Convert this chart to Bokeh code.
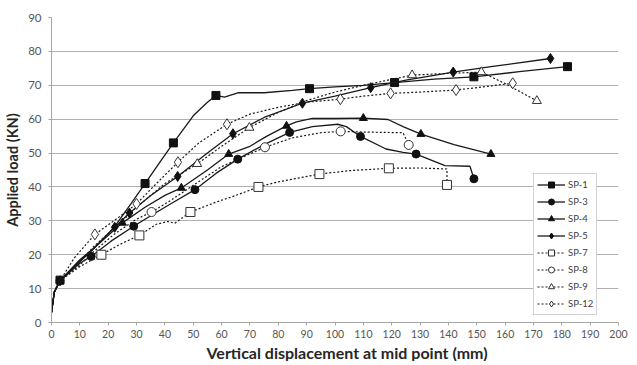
from bokeh.plotting import figure
from bokeh.models import Legend, LegendItem, Range1d, FixedTicker, Title
from bokeh.embed import file_html
from bokeh.resources import INLINE

# ---- data ----
sp1_x = [0, 1, 3, 8, 14, 22, 28, 33, 38, 43, 50, 55, 58, 61, 66, 75, 85, 91, 100, 110, 121, 135, 149, 165, 182]
sp1_y = [3, 9, 12.5, 16.5, 21, 28, 35, 41, 47, 53, 61, 65, 67, 66.5, 67.8, 67.8, 68.5, 69, 69.5, 70, 70.8, 71.8, 72.5, 74, 75.5]
sp1_mx = [3, 33, 43, 58, 91, 121, 149, 182]
sp1_my = [12.5, 41, 53, 67, 69, 70.8, 72.5, 75.5]

sp3_x = [0, 1, 3, 10, 14, 21, 29, 36, 43, 50.6, 58, 65.7, 75, 84, 92, 101, 104, 109, 118, 124, 128.6, 138.8, 147.6, 149]
sp3_y = [3, 9, 12.3, 17.5, 19.5, 24, 28.4, 32, 35.5, 39.2, 44, 48.2, 52.5, 56.1, 57.8, 58.5, 57.8, 54.9, 51.2, 50.2, 49.7, 46.3, 46.1, 42.4]
sp3_mx = [3, 14, 29, 50.6, 65.7, 84, 109, 128.6, 149]
sp3_my = [12.3, 19.5, 28.4, 39.2, 48.2, 56.1, 54.9, 49.7, 42.4]

sp4_x = [0, 1, 3, 10, 15, 25, 33, 40, 45.8, 55, 62.5, 70, 76, 82.9, 86.4, 92, 100, 110, 118.7, 124, 130.3, 142, 155]
sp4_y = [3, 9, 12.3, 18, 22, 29.4, 34, 37.5, 39.7, 45, 49.7, 52, 55, 58, 59.2, 60.2, 60.2, 60.3, 59.9, 57.8, 55.6, 52.5, 49.7]
sp4_mx = [3, 25, 45.8, 62.5, 82.9, 110, 130.3, 155]
sp4_my = [12.3, 29.4, 39.7, 49.7, 58, 60.3, 55.6, 49.7]

sp5_x = [0, 1, 3, 10, 15, 22.3, 27.5, 35, 44.5, 55, 64, 75, 88.5, 100, 112.6, 125, 141.7, 155, 176]
sp5_y = [3, 9, 12.3, 18.5, 22, 28.1, 32.3, 37.5, 43.1, 50, 55.7, 60.5, 64.7, 66.8, 69.3, 71.5, 73.9, 75.5, 77.9]
sp5_mx = [3, 22.3, 27.5, 44.5, 64, 88.5, 112.6, 141.7, 176]
sp5_my = [12.3, 28.1, 32.3, 43.1, 55.7, 64.7, 69.3, 73.9, 77.9]

sp7_x = [0, 1, 3, 10, 17.6, 24, 31, 37, 41, 43.5, 49, 58, 65, 73, 80, 94.5, 105, 119, 130, 139.5, 139.5]
sp7_y = [3, 9, 12.3, 16.5, 20, 23, 25.7, 29, 29.8, 29.3, 32.6, 35.5, 37.5, 40, 41.5, 43.8, 44.8, 45.5, 45.6, 45.3, 40.6]
sp7_mx = [17.6, 31, 49, 73, 94.5, 119, 139.5]
sp7_my = [20, 25.7, 32.6, 40, 43.8, 45.5, 40.6]

sp8_x = [0, 1, 3, 10, 15, 22, 30, 35.3, 42, 50, 60, 68, 75.3, 85, 95, 102, 110, 124, 126]
sp8_y = [3, 9, 12.3, 17, 21, 26, 30.5, 32.6, 36, 40.5, 46, 49, 51.7, 54.5, 56, 56.4, 56.2, 56, 52.4]
sp8_mx = [35.3, 75.3, 102, 126]
sp8_my = [32.6, 51.7, 56.4, 52.4]

sp9_x = [0, 1, 3, 10, 15, 25, 30, 40, 51.4, 60, 69.8, 80, 90, 100, 110, 127.2, 140, 151.6, 160, 171.2]
sp9_y = [3, 9, 12.3, 18, 22.5, 30, 34, 41, 46.8, 52, 57.5, 62, 65.5, 68, 70, 73, 73.5, 73.9, 70.5, 65.4]
sp9_mx = [51.4, 69.8, 127.2, 151.6, 171.2]
sp9_my = [46.8, 57.5, 73, 73.9, 65.4]

sp12_x = [0, 1, 3, 8, 15.3, 22, 30, 37, 44.6, 52, 61.9, 70, 80, 90, 101.9, 110, 119.6, 130, 142.7, 152, 162.7]
sp12_y = [3, 9, 12.3, 19, 26, 30, 35, 41, 47.3, 53, 58.5, 61.5, 63.5, 65, 65.9, 66.8, 67.6, 68, 68.6, 69.5, 70.6]
sp12_mx = [15.3, 30, 44.6, 61.9, 101.9, 119.6, 142.7, 162.7]
sp12_my = [26, 35, 47.3, 58.5, 65.9, 67.6, 68.6, 70.6]

x_ticks = list(range(0, 201, 10))
y_ticks = list(range(0, 91, 10))

series = [
    ("SP-1", sp1_x, sp1_y, sp1_mx, sp1_my, "square", True, "solid", 8),
    ("SP-3", sp3_x, sp3_y, sp3_mx, sp3_my, "circle", True, "solid", 8),
    ("SP-4", sp4_x, sp4_y, sp4_mx, sp4_my, "triangle", True, "solid", 8),
    ("SP-5", sp5_x, sp5_y, sp5_mx, sp5_my, "diamond", True, "solid", 10),
    ("SP-7", sp7_x, sp7_y, sp7_mx, sp7_my, "square", False, "2 2", 9),
    ("SP-8", sp8_x, sp8_y, sp8_mx, sp8_my, "circle", False, "2 2", 9),
    ("SP-9", sp9_x, sp9_y, sp9_mx, sp9_my, "triangle", False, "2 2", 9),
    ("SP-12", sp12_x, sp12_y, sp12_mx, sp12_my, "diamond", False, "2 2", 11),
]

FONT = "Lato"
p = figure(width=629, height=361, output_backend="svg", toolbar_location=None,
           x_range=Range1d(0, 200), y_range=Range1d(0, 90),
           min_border_left=51, min_border_right=11, min_border_top=17, min_border_bottom=20)
p.outline_line_color = None
p.background_fill_color = "white"
p.border_fill_color = "white"

p.xgrid.grid_line_color = None
p.ygrid.grid_line_color = "#b0b0b0"
p.ygrid.grid_line_width = 1

p.xaxis.ticker = FixedTicker(ticks=x_ticks)
p.yaxis.ticker = FixedTicker(ticks=y_ticks)
for ax in (p.xaxis[0], p.yaxis[0]):
    ax.axis_line_color = "#a6a6a6"
    ax.major_tick_line_color = "#a6a6a6"
    ax.major_tick_out = 3
    ax.major_tick_in = 0
    ax.minor_tick_out = 0
    ax.minor_tick_in = 0
    ax.major_label_text_font = FONT
    ax.major_label_text_color = "#555555"
    ax.axis_label_text_font = FONT
    ax.axis_label_text_font_style = "bold"
    ax.axis_label_text_color = "#262626"
p.xaxis.major_label_text_font_size = "10.5px"
p.yaxis.major_label_text_font_size = "11.5px"
p.yaxis.axis_label = "Applied load (KN)"
p.yaxis.axis_label_text_font_size = "14.5px"
p.xaxis.major_label_standoff = 4
p.yaxis.major_label_standoff = 7
p.yaxis.axis_label_standoff = 4

xt = Title(text="Vertical displacement at mid point (mm)", align="left", offset=155,
           text_font=FONT, text_font_style="bold", text_font_size="16px",
           text_color="#262626", standoff=0)
p.add_layout(xt, "below")

items = []
for name, xs, ys, mx, my, marker, filled, dash, size in series:
    lr = p.line(xs, ys, line_color="#1a1a1a", line_width=1.3 if filled else 1.2,
                line_dash=dash)
    mr = p.scatter(mx, my, marker=marker, size=size,
                   fill_color="#111111" if filled else "white",
                   line_color="#111111" if filled else "#333333",
                   line_width=1)
    items.append(LegendItem(label=name, renderers=[lr, mr]))

legend = Legend(items=items, location=(482, 7))
legend.label_text_font = FONT
legend.label_text_font_size = "9.5px"
legend.label_text_color = "#404040"
legend.border_line_color = "#a6a6a6"
legend.background_fill_color = "white"
legend.background_fill_alpha = 1
legend.padding = 3
legend.margin = 0
legend.spacing = 2
legend.glyph_height = 15
legend.label_height = 15
legend.glyph_width = 28
legend.label_standoff = 3
p.add_layout(legend, "center")

open("out.html", "w").write(file_html(p, INLINE))
